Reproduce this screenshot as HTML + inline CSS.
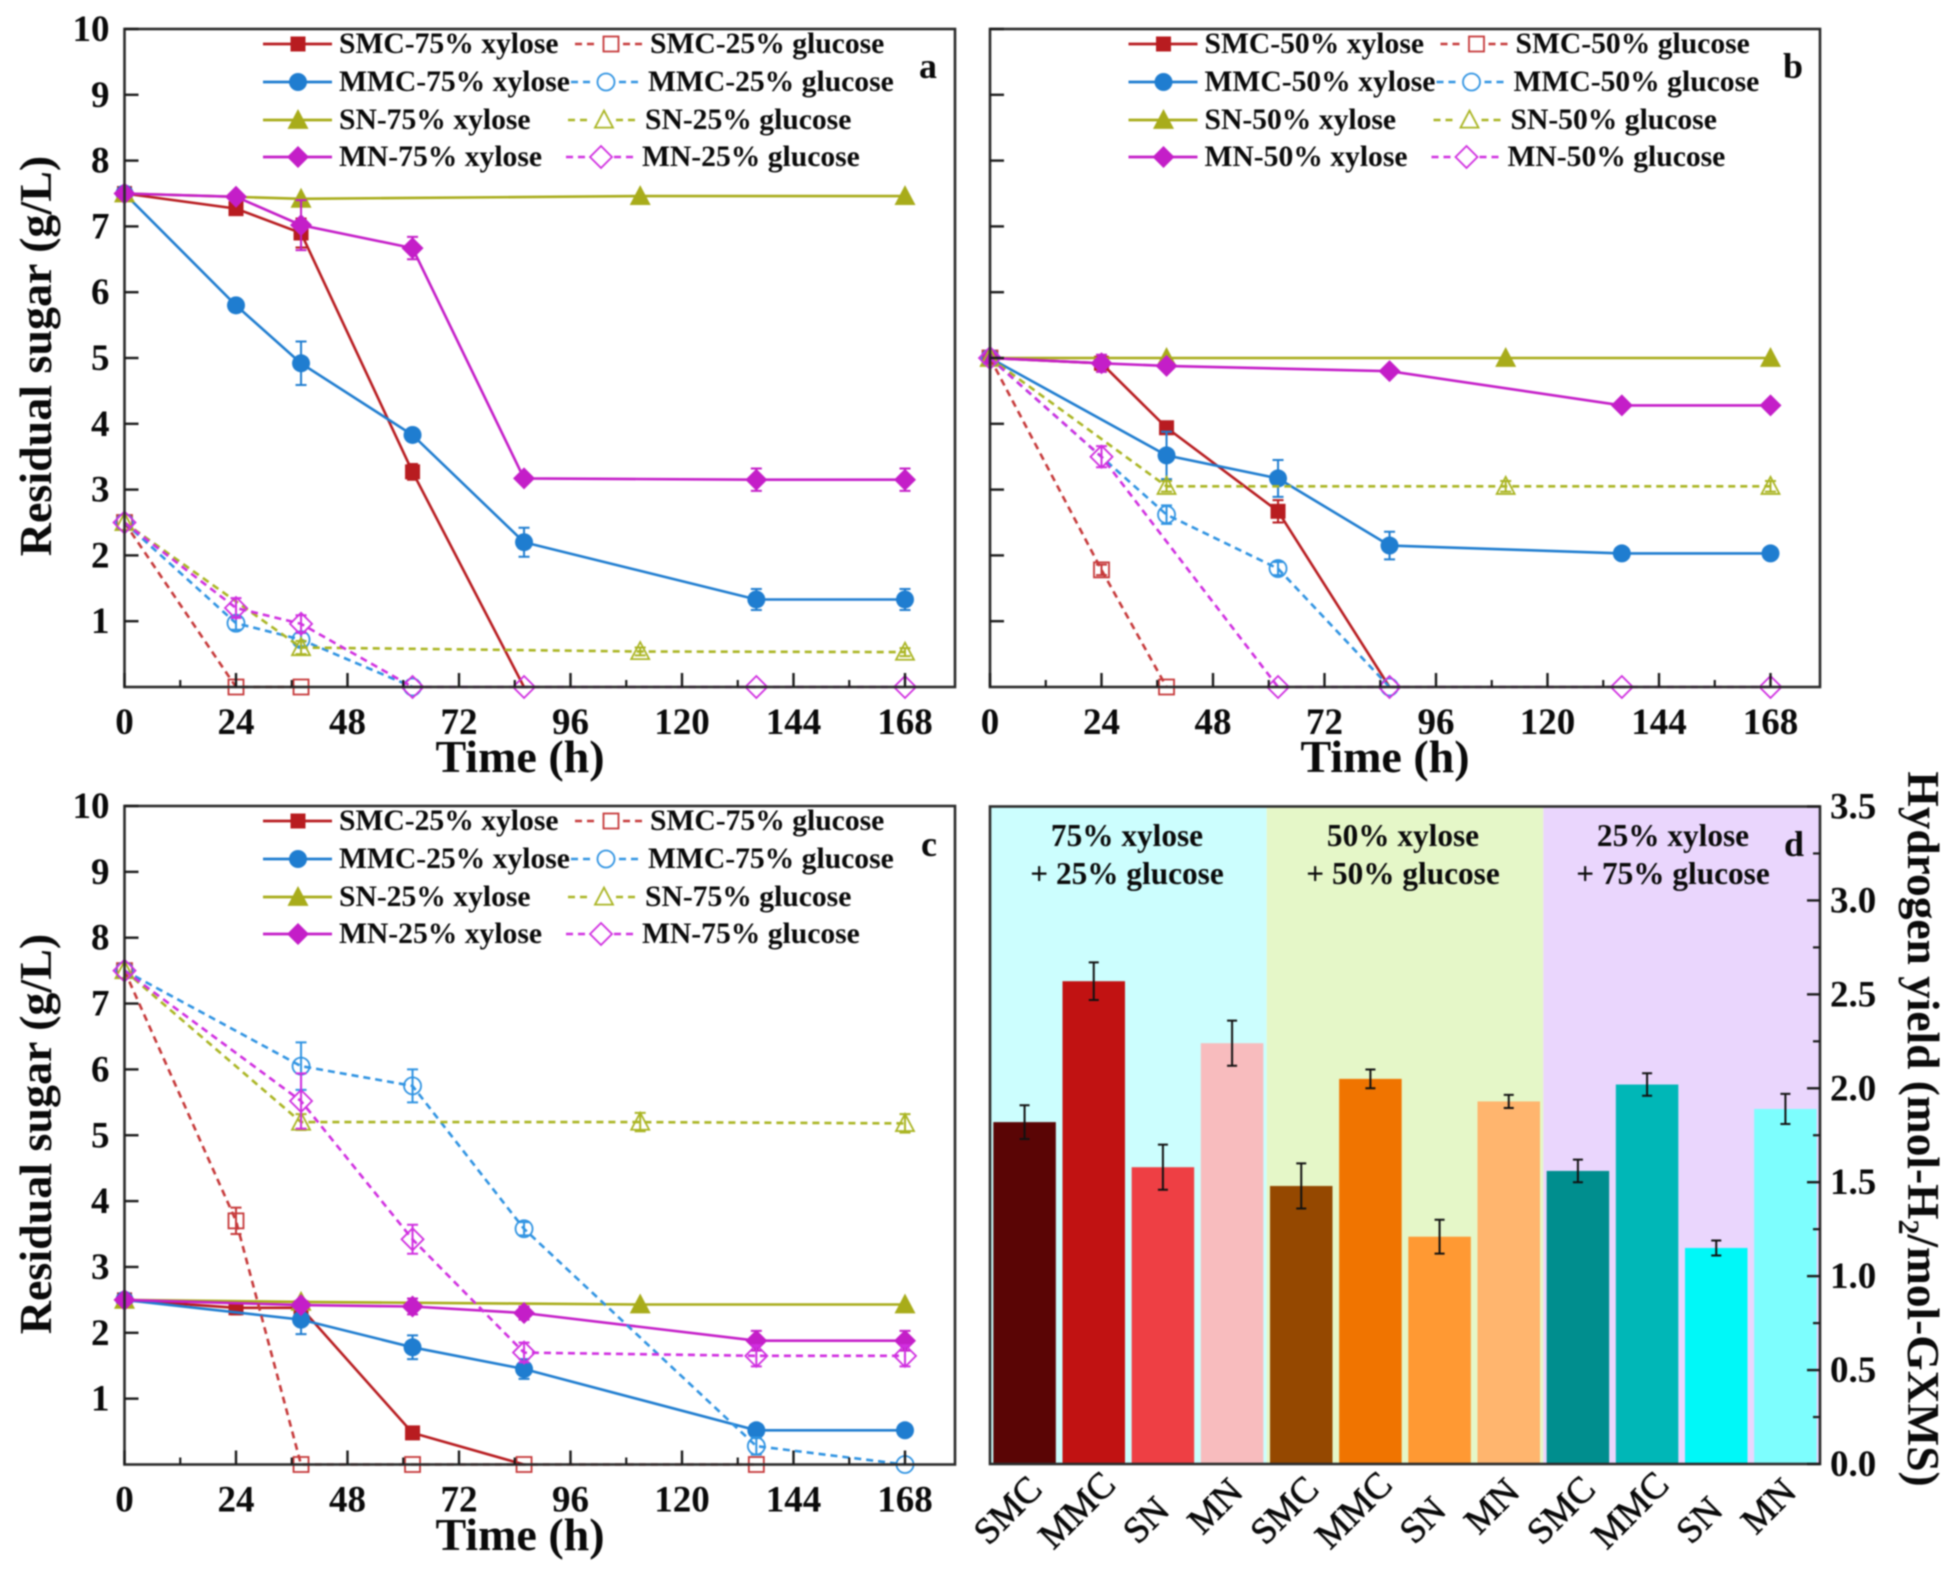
<!DOCTYPE html>
<html lang="en">
<head>
<meta charset="utf-8">
<title>Residual sugar and hydrogen yield</title>
<style>
html,body{margin:0;padding:0;background:#fff;}
#figure{display:block;width:1952px;height:1570px;filter:blur(0.9px);font-family:"Liberation Serif",serif;}
text{font-family:"Liberation Serif",serif;fill:#0a0a0a;}
</style>
</head>
<body>
<svg id="figure" xmlns="http://www.w3.org/2000/svg" width="1952" height="1570" viewBox="0 0 1952 1570">
  <rect x="0" y="0" width="1952" height="1570" fill="#fff"/>
  <g id="plots"></g>
  <text transform="translate(51,356) rotate(-90)" text-anchor="middle" font-size="46" font-weight="bold">Residual sugar (g/L)</text>
  <text transform="translate(51,1134) rotate(-90)" text-anchor="middle" font-size="46" font-weight="bold">Residual sugar (g/L)</text>
  <text x="520" y="772" text-anchor="middle" font-size="46" font-weight="bold">Time (h)</text>
  <text x="1385" y="772" text-anchor="middle" font-size="46" font-weight="bold">Time (h)</text>
  <text x="520" y="1550" text-anchor="middle" font-size="46" font-weight="bold">Time (h)</text>
  <text transform="translate(1908,1129) rotate(90)" text-anchor="middle" font-size="45.4" font-weight="bold">Hydrogen yield (mol-H<tspan dy="9" font-size="30">2</tspan><tspan dy="-9">/mol-GXMS)</tspan></text>
  <text x="928" y="78" text-anchor="middle" font-size="36" font-weight="bold">a</text>
  <text x="1793" y="78" text-anchor="middle" font-size="36" font-weight="bold">b</text>
  <text x="929" y="856" text-anchor="middle" font-size="36" font-weight="bold">c</text>
  <text x="1794" y="856" text-anchor="middle" font-size="36" font-weight="bold">d</text>
</svg>
<script>
// ---------- shared axis data ----------
const timesH = [0, 24, 38, 62, 86, 111, 136, 168];
const xTickLabels = [0, 24, 48, 72, 96, 120, 144, 168];
const yTickLabels = [1, 2, 3, 4, 5, 6, 7, 8, 9, 10];
const yieldTickLabels = ['0.0', '0.5', '1.0', '1.5', '2.0', '2.5', '3.0', '3.5'];

// ---------- panel a ----------
const aSmcXylose = [7.5, 7.27, 6.9, 3.27, 0, null, null, null];
const aSmcXyloseErr = [0, 0.08, 0.22, 0.12, 0, 0, 0, 0];
const aMmcXylose = [7.5, 5.8, 4.92, 3.83, 2.2, null, 1.33, 1.33];
const aMmcXyloseErr = [0, 0.05, 0.33, 0.08, 0.22, 0, 0.16, 0.16];
const aSnXylose = [7.5, null, 7.42, null, null, 7.46, null, 7.46];
const aSnXyloseErr = [0, 0, 0, 0, 0, 0, 0, 0];
const aMnXylose = [7.5, 7.45, 7.02, 6.67, 3.17, null, 3.15, 3.15];
const aMnXyloseErr = [0, 0.05, 0.38, 0.17, 0.05, 0, 0.17, 0.17];
const aSmcGlucose = [2.5, 0, 0, null, null, null, null, null];
const aSmcGlucoseErr = [0, 0, 0, 0, 0, 0, 0, 0];
const aMmcGlucose = [2.5, 0.97, 0.72, 0, null, null, null, null];
const aMmcGlucoseErr = [0, 0.1, 0.1, 0, 0, 0, 0, 0];
const aSnGlucose = [2.5, null, 0.6, null, null, 0.54, null, 0.53];
const aSnGlucoseErr = [0, 0, 0.1, 0, 0, 0.06, 0, 0.06];
const aMnGlucose = [2.5, 1.2, 0.96, 0, 0, null, 0, 0];
const aMnGlucoseErr = [0, 0.15, 0.13, 0, 0, 0, 0, 0];

// ---------- panel b ----------
const bSmcXylose = [5, 4.92, 3.94, 2.67, 0, null, null, null];
const bSmcXyloseErr = [0, 0.06, 0.05, 0.17, 0, 0, 0, 0];
const bMmcXylose = [5, null, 3.52, 3.17, 2.15, null, 2.03, 2.03];
const bMmcXyloseErr = [0, 0, 0.36, 0.28, 0.21, 0, 0.05, 0.05];
const bSnXylose = [5, null, 5, null, null, 5, null, 5];
const bSnXyloseErr = [0, 0, 0, 0, 0, 0, 0, 0];
const bMnXylose = [5, 4.92, 4.88, null, 4.8, null, 4.28, 4.28];
const bMnXyloseErr = [0, 0.13, 0.05, 0, 0.05, 0, 0.05, 0.05];
const bSmcGlucose = [5, 1.78, 0, null, null, null, null, null];
const bSmcGlucoseErr = [0, 0.08, 0, 0, 0, 0, 0, 0];
const bMmcGlucose = [5, null, 2.62, 1.8, 0, null, null, null];
const bMmcGlucoseErr = [0, 0, 0.14, 0.1, 0, 0, 0, 0];
const bSnGlucose = [5, null, 3.05, null, null, 3.05, null, 3.05];
const bSnGlucoseErr = [0, 0, 0.08, 0, 0, 0.08, 0, 0.08];
const bMnGlucose = [5, 3.5, null, 0, 0, null, 0, 0];
const bMnGlucoseErr = [0, 0.16, 0, 0, 0, 0, 0, 0];

// ---------- panel c ----------
const cSmcXylose = [2.5, 2.38, 2.38, 0.48, 0, null, null, null];
const cSmcXyloseErr = [0, 0.1, 0.05, 0.05, 0, 0, 0, 0];
const cMmcXylose = [2.5, null, 2.2, 1.78, 1.45, null, 0.52, 0.52];
const cMmcXyloseErr = [0, 0, 0.22, 0.18, 0.15, 0, 0.06, 0.06];
const cSnXylose = [2.5, null, 2.47, null, null, 2.43, null, 2.43];
const cSnXyloseErr = [0, 0, 0, 0, 0, 0, 0, 0];
const cMnXylose = [2.5, null, 2.42, 2.4, 2.3, null, 1.88, 1.88];
const cMnXyloseErr = [0, 0, 0.06, 0.12, 0.1, 0, 0.15, 0.15];
const cSmcGlucose = [7.5, 3.7, 0, 0, 0, null, 0, null];
const cSmcGlucoseErr = [0, 0.2, 0, 0, 0, 0, 0, 0];
const cMmcGlucose = [7.5, null, 6.05, 5.75, 3.58, null, 0.28, 0];
const cMmcGlucoseErr = [0, 0, 0.36, 0.25, 0.1, 0, 0.13, 0];
const cSnGlucose = [7.5, null, 5.2, null, null, 5.2, null, 5.18];
const cSnGlucoseErr = [0, 0, 0.12, 0, 0, 0.14, 0, 0.14];
const cMnGlucose = [7.5, null, 5.52, 3.42, 1.7, null, 1.65, 1.65];
const cMnGlucoseErr = [0, 0, 0.42, 0.22, 0.15, 0, 0.16, 0.16];

// ---------- panel d ----------
const yieldCategories = ['SMC', 'MMC', 'SN', 'MN', 'SMC', 'MMC', 'SN', 'MN', 'SMC', 'MMC', 'SN', 'MN'];
const yieldValues = [1.82, 2.57, 1.58, 2.24, 1.48, 2.05, 1.21, 1.93, 1.56, 2.02, 1.15, 1.89];
const yieldErrors = [0.09, 0.1, 0.12, 0.12, 0.12, 0.05, 0.09, 0.035, 0.06, 0.06, 0.04, 0.08];
const groupLineOne = ['75% xylose', '50% xylose', '25% xylose'];
const groupLineTwo = ['+ 25% glucose', '+ 50% glucose', '+ 75% glucose'];

// ---------- legend labels ----------
const familyNames = ['SMC', 'MMC', 'SN', 'MN'];
const aXylosePct = '75%'; const aGlucosePct = '25%';
const bXylosePct = '50%'; const bGlucosePct = '50%';
const cXylosePct = '25%'; const cGlucosePct = '75%';

// ---------- styling ----------
const barPalette = ['#5a0505', '#c11212', '#ee3f44', '#f8bcbe', '#954800', '#f07400', '#ff9933', '#ffb56e', '#008e8e', '#00b7b7', '#00f8f8', '#7dfefe'];
const bandPalette = ['#ccfefe', '#e5f7c8', '#ead6fd'];
const solidPalette = ['#b81c20', '#1f7dd0', '#a8ac1a', '#c41ec8'];
const dashPalette = ['#c6393a', '#2f93e2', '#aab523', '#d02fe0'];

const SVGNS = 'http://www.w3.org/2000/svg';
const plots = document.getElementById('plots');

function mk(tag, attrs, parent) {
  const node = document.createElementNS(SVGNS, tag);
  for (const k in attrs) node.setAttribute(k, attrs[k]);
  (parent || plots).appendChild(node);
  return node;
}

function drawMarker(parent, family, open, x, y, color, name) {
  const fill = open ? 'none' : color;
  const sw = open ? 1.8 : 0;
  let m;
  if (family === 0) {
    const s = 15;
    m = mk('rect', { x: x - s / 2, y: y - s / 2, width: s, height: s, fill: fill, stroke: color, 'stroke-width': sw }, parent);
  } else if (family === 1) {
    m = mk('circle', { cx: x, cy: y, r: open ? 8.5 : 9, fill: fill, stroke: color, 'stroke-width': sw }, parent);
  } else if (family === 2) {
    const h = open ? 9 : 10.5;
    m = mk('polygon', { points: (x - h) + ',' + (y + h * 0.85) + ' ' + (x + h) + ',' + (y + h * 0.85) + ' ' + x + ',' + (y - h * 1.05), fill: fill, stroke: color, 'stroke-width': sw }, parent);
  } else {
    const h = 11;
    m = mk('polygon', { points: (x - h) + ',' + y + ' ' + x + ',' + (y - h) + ' ' + (x + h) + ',' + y + ' ' + x + ',' + (y + h), fill: fill, stroke: color, 'stroke-width': sw }, parent);
  }
  
  
}

function drawSeries(panel, seriesName, family, open, values, errors) {
  const color = open ? dashPalette[family] : solidPalette[family];
  const group = mk('g', {});
  
  
  const pts = [];
  values.forEach(function (v, i) {
    if (v === null) return;
    pts.push(panel.x(timesH[i]).toFixed(1) + ',' + panel.y(v).toFixed(1));
  });
  const line = mk('polyline', { points: pts.join(' '), fill: 'none', stroke: color, 'stroke-width': 2.6 }, group);
  if (open) line.setAttribute('stroke-dasharray', '7 5');
  
  
  values.forEach(function (v, i) {
    if (v === null) return;
    const cx = panel.x(timesH[i]);
    const cy = panel.y(v);
    const e = errors[i];
    if (e > 0) {
      const up = panel.y(v + e);
      const dn = panel.y(v - e);
      const bar = mk('path', { d: 'M' + cx + ' ' + up + 'V' + dn + 'M' + (cx - 5.5) + ' ' + up + 'h11M' + (cx - 5.5) + ' ' + dn + 'h11', fill: 'none', stroke: color, 'stroke-width': 2 }, group);
      
      
    }
    // filled xylose markers vanish in the reference once the sugar is exhausted
    if (!open && v === 0) return;
    drawMarker(group, family, open, cx, cy, color, seriesName + '-point');
  });
}

function drawLegend(panel, xylosePct, glucosePct) {
  const rowY = [44, 82, 120, 157];
  const dashStart = [575, 571, 568, 566];
  const dashEnd = [644, 641, 638, 634];
  const dashMark = [611, 606, 604, 601];
  const dashText = [650, 648, 645, 642];
  const ox = panel.left - 124.5;
  const oy = panel.top - 29;
  familyNames.forEach(function (fam, r) {
    const y = rowY[r] + oy;
    const l1 = mk('line', { x1: 263 + ox, x2: 332 + ox, y1: y, y2: y, stroke: solidPalette[r], 'stroke-width': 2.8 });
    
    
    drawMarker(plots, r, false, 298 + ox, y, solidPalette[r], 'legend-key-marker');
    const t1 = mk('text', { x: 339 + ox, y: y + 9, 'font-size': 29.6, 'font-weight': 'bold' });
    t1.textContent = fam + '-' + xylosePct + ' xylose';
    
    
    const l2 = mk('line', { x1: dashStart[r] + ox, x2: dashEnd[r] + ox, y1: y, y2: y, stroke: dashPalette[r], 'stroke-width': 2.6, 'stroke-dasharray': '7 5' });
    
    
    const cover = mk('rect', { x: dashMark[r] - 12 + ox, y: y - 12, width: 24, height: 24, fill: '#fff' });
    
    
    drawMarker(plots, r, true, dashMark[r] + ox, y, dashPalette[r], 'legend-key-marker');
    const t2 = mk('text', { x: dashText[r] + ox, y: y + 9, 'font-size': 29.6, 'font-weight': 'bold' });
    t2.textContent = fam + '-' + glucosePct + ' glucose';
    
    
  });
}

function drawFrameAndAxes(panel, showYLabels) {
  const frame = mk('rect', { x: panel.left, y: panel.top, width: panel.right - panel.left, height: panel.bottom - panel.top, fill: 'none', stroke: '#2b2b2b', 'stroke-width': 2.6 });
  
  
  xTickLabels.forEach(function (lab) {
    const x = panel.x(lab);
    const tick = mk('line', { x1: x, x2: x, y1: panel.bottom, y2: panel.bottom - 14, stroke: '#1a1a1a', 'stroke-width': 2.4 });
    
    
    const minorX = panel.x(lab + 12);
    if (lab < 168) {
      const minor = mk('line', { x1: minorX, x2: minorX, y1: panel.bottom, y2: panel.bottom - 7, stroke: '#1a1a1a', 'stroke-width': 2.2 });
      
      
    }
    const t = mk('text', { x: x, y: panel.bottom + 47, 'text-anchor': 'middle', 'font-size': 37, 'font-weight': 'bold' });
    t.textContent = lab;
    
    
  });
  yTickLabels.forEach(function (lab) {
    const y = panel.y(lab);
    const tick = mk('line', { x1: panel.left, x2: panel.left + 14, y1: y, y2: y, stroke: '#1a1a1a', 'stroke-width': 2.4 });
    
    
    if (showYLabels) {
      const t = mk('text', { x: panel.left - 15, y: y + 12, 'text-anchor': 'end', 'font-size': 37, 'font-weight': 'bold' });
      t.textContent = lab;
      
      
    }
  });
}

function linePanel(id, left, right, top, bottom) {
  const x0 = left;
  const xScale = (905 - 124.5) / 168;
  const yScale = (bottom - top) / 10;
  return {
    id: id, left: left, right: right, top: top, bottom: bottom,
    x: function (t) { return x0 + t * xScale; },
    y: function (v) { return bottom - v * yScale; }
  };
}

const panelA = linePanel('panel-a', 124.5, 955, 29, 687);
const panelB = linePanel('panel-b', 990, 1820, 29, 687);
const panelC = linePanel('panel-c', 124.5, 955, 806, 1464.5);

// panel a
drawSeries(panelA, 'smc-75-xylose', 0, false, aSmcXylose, aSmcXyloseErr);
drawSeries(panelA, 'mmc-75-xylose', 1, false, aMmcXylose, aMmcXyloseErr);
drawSeries(panelA, 'sn-75-xylose', 2, false, aSnXylose, aSnXyloseErr);
drawSeries(panelA, 'mn-75-xylose', 3, false, aMnXylose, aMnXyloseErr);
drawSeries(panelA, 'smc-25-glucose', 0, true, aSmcGlucose, aSmcGlucoseErr);
drawSeries(panelA, 'mmc-25-glucose', 1, true, aMmcGlucose, aMmcGlucoseErr);
drawSeries(panelA, 'sn-25-glucose', 2, true, aSnGlucose, aSnGlucoseErr);
drawSeries(panelA, 'mn-25-glucose', 3, true, aMnGlucose, aMnGlucoseErr);
drawFrameAndAxes(panelA, true);
drawLegend(panelA, aXylosePct, aGlucosePct);

// panel b
drawSeries(panelB, 'smc-50-xylose', 0, false, bSmcXylose, bSmcXyloseErr);
drawSeries(panelB, 'mmc-50-xylose', 1, false, bMmcXylose, bMmcXyloseErr);
drawSeries(panelB, 'sn-50-xylose', 2, false, bSnXylose, bSnXyloseErr);
drawSeries(panelB, 'mn-50-xylose', 3, false, bMnXylose, bMnXyloseErr);
drawSeries(panelB, 'smc-50-glucose', 0, true, bSmcGlucose, bSmcGlucoseErr);
drawSeries(panelB, 'mmc-50-glucose', 1, true, bMmcGlucose, bMmcGlucoseErr);
drawSeries(panelB, 'sn-50-glucose', 2, true, bSnGlucose, bSnGlucoseErr);
drawSeries(panelB, 'mn-50-glucose', 3, true, bMnGlucose, bMnGlucoseErr);
drawFrameAndAxes(panelB, false);
drawLegend(panelB, bXylosePct, bGlucosePct);

// panel c
drawSeries(panelC, 'smc-25-xylose', 0, false, cSmcXylose, cSmcXyloseErr);
drawSeries(panelC, 'mmc-25-xylose', 1, false, cMmcXylose, cMmcXyloseErr);
drawSeries(panelC, 'sn-25-xylose', 2, false, cSnXylose, cSnXyloseErr);
drawSeries(panelC, 'mn-25-xylose', 3, false, cMnXylose, cMnXyloseErr);
drawSeries(panelC, 'smc-75-glucose', 0, true, cSmcGlucose, cSmcGlucoseErr);
drawSeries(panelC, 'mmc-75-glucose', 1, true, cMmcGlucose, cMmcGlucoseErr);
drawSeries(panelC, 'sn-75-glucose', 2, true, cSnGlucose, cSnGlucoseErr);
drawSeries(panelC, 'mn-75-glucose', 3, true, cMnGlucose, cMnGlucoseErr);
drawFrameAndAxes(panelC, true);
drawLegend(panelC, cXylosePct, cGlucosePct);

// panel d
(function () {
  const left = 990, right = 1820, top = 806.5, bottom = 1464;
  const step = (right - left) / 12;
  const barW = 62.5;
  const yMax = 3.5;
  const yY = function (v) { return bottom - v / yMax * (bottom - top); };
  const xC = function (i) { return left + (i + 0.5) * step; };
  bandPalette.forEach(function (col, g) {
    const band = mk('rect', { x: left + g * 4 * step, y: top, width: 4 * step, height: bottom - top, fill: col });
    
    
    const cx = [1127, 1403, 1673][g];
    const t1 = mk('text', { x: cx, y: 846, 'text-anchor': 'middle', 'font-size': 31.3, 'font-weight': 'bold' });
    t1.textContent = groupLineOne[g];
    
    
    const t2 = mk('text', { x: cx, y: 884, 'text-anchor': 'middle', 'font-size': 31.3, 'font-weight': 'bold' });
    t2.textContent = groupLineTwo[g];
    
    
  });
  yieldValues.forEach(function (v, i) {
    const c = xC(i);
    const bar = mk('rect', { x: c - barW / 2, y: yY(v), width: barW, height: bottom - yY(v), fill: barPalette[i] });
    
    
    const up = yY(v + yieldErrors[i]);
    const dn = yY(v - yieldErrors[i]);
    const err = mk('path', { d: 'M' + c + ' ' + up + 'V' + dn + 'M' + (c - 5) + ' ' + up + 'h10M' + (c - 5) + ' ' + dn + 'h10', fill: 'none', stroke: '#111', 'stroke-width': 2 });
    
    
    const cat = yieldCategories[i];
    const drop = cat === 'SN' ? 10 : (cat === 'MN' ? -4 : 0);
    const lab = mk('text', { transform: 'translate(' + (c - 17) + ',' + (1510 + drop) + ') rotate(-45)', 'text-anchor': 'middle', dy: '0.33em', 'font-size': 37, stroke: '#0a0a0a', 'stroke-width': 0.7 });
    lab.textContent = cat;
    
    
  });
  const frame = mk('rect', { x: left, y: top, width: right - left, height: bottom - top, fill: 'none', stroke: '#2b2b2b', 'stroke-width': 2.6 });
  
  
  yieldTickLabels.forEach(function (lab) {
    const val = parseFloat(lab);
    const y = yY(val);
    const tick = mk('line', { x1: right, x2: right - 13, y1: y, y2: y, stroke: '#1a1a1a', 'stroke-width': 2.4 });
    
    
    if (val < 3.5) {
      const my = yY(val + 0.25);
      const minor = mk('line', { x1: right, x2: right - 7, y1: my, y2: my, stroke: '#1a1a1a', 'stroke-width': 2.2 });
      
      
    }
    const t = mk('text', { x: right + 10, y: y + 12, 'font-size': 37, 'font-weight': 'bold' });
    t.textContent = lab;
    
    
  });
})();
</script>
</body>
</html>
